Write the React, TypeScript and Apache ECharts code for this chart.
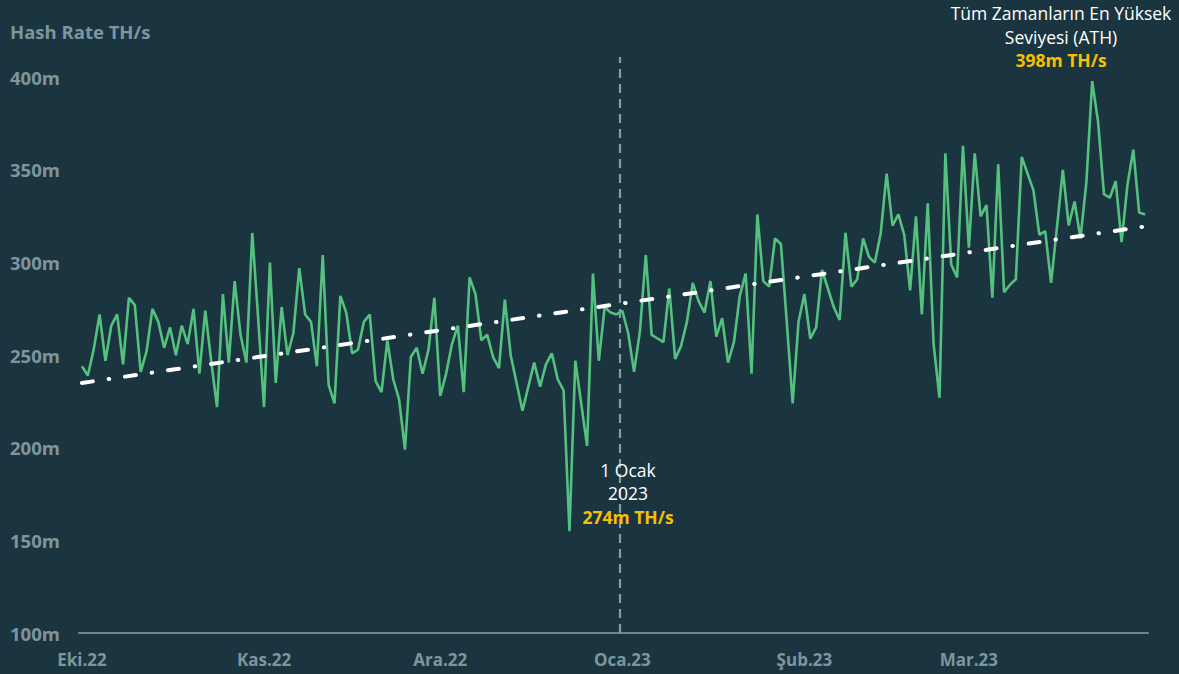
import React, { useEffect, useRef } from 'react';
import * as echarts from 'echarts';

// Daily categories: 1 Oct 2022 .. 31 Mar 2023
const START_DATE = Date.UTC(2022, 9, 1);
const DAY_COUNT = 182;
const categories: string[] = Array.from({ length: DAY_COUNT }, (_, i) =>
  new Date(START_DATE + i * 86400000).toISOString().slice(0, 10)
);

const monthStarts = ['2022-10-01', '2022-11-01', '2022-12-01', '2023-01-01', '2023-02-01', '2023-03-01'];
const monthLabels = ['Eki.22', 'Kas.22', 'Ara.22', 'Oca.23', 'Şub.23', 'Mar.23'];

// Hash rate (TH/s, in millions) per day
const hashRate = [
  244, 239, 253, 272, 247, 266, 272, 245, 281, 277,
  241, 252, 275, 268, 254, 265, 250, 266, 256, 275,
  240, 274, 247, 222, 283, 246, 290, 261, 246, 316,
  270, 222, 300, 235, 276, 250, 262, 297, 272, 268,
  244, 304, 234, 224, 282, 273, 251, 253, 268, 272,
  236, 230, 258, 237, 226, 199, 249, 254, 240, 253,
  281, 228, 240, 256, 266, 230, 292, 283, 258, 261,
  249, 243, 280, 250, 235, 220, 233, 246, 233, 245,
  251, 237, 231, 155, 247, 224, 201, 294, 247, 276,
  273, 272, 274, 262, 241, 263, 304, 261, 259, 257,
  286, 248, 255, 268, 289, 279, 273, 290, 260, 270,
  246, 257, 282, 294, 240, 326, 290, 287, 313, 310,
  268, 224, 268, 283, 259, 265, 296, 286, 276, 269,
  316, 287, 291, 313, 303, 300, 316, 348, 320, 326,
  315, 285, 325, 272, 332, 256, 227, 359, 299, 292,
  363, 308, 359, 325, 331, 281, 353, 284, 288, 291,
  357, 348, 339, 315, 317, 289, 319, 350, 320, 333,
  313, 343, 398, 376, 337, 335, 344, 311, 342, 361,
  327, 326,
];

// Linear trend end values
const trendValues = [235, 319.5];

const yMin = 100;
const yMax = 411;
const yInterval = 50;

const BG = '#1b3540';
const GRAY = '#7d969e';
const GREEN = '#55c17e';
const YELLOW = '#f8c000';
const FONT = '"Open Sans", "Noto Sans", sans-serif';

function annotation(x: number, y: number, lines: string[], value: string) {
  const step = 23.5;
  const size = 17.5;
  const els: any[] = lines.map((t, i) => ({
    type: 'text',
    x,
    y: y + i * step,
    z: 10,
    style: { text: t, fill: '#ffffff', fontSize: size, fontFamily: FONT, align: 'center', verticalAlign: 'middle' },
  }));
  els.push({
    type: 'text',
    x,
    y: y + lines.length * step,
    z: 10,
    style: { text: value, fill: YELLOW, fontSize: size, fontWeight: 'bold', fontFamily: FONT, align: 'center', verticalAlign: 'middle' },
  });
  return els;
}

export default function App() {
  const ref = useRef<HTMLDivElement>(null);

  useEffect(() => {
    document.body.style.margin = '0';
    document.body.style.background = BG;
    if (!ref.current) return;
    const chart = echarts.init(ref.current, undefined, { renderer: 'svg' });

    const isMonthStart = (_i: number, v: string) => monthStarts.indexOf(v) >= 0;
    const jan1Index = categories.indexOf('2023-01-01');
    const jan1Value = hashRate[jan1Index];
    const athValue = Math.max(...hashRate);

    chart.setOption({
      animation: false,
      backgroundColor: BG,
      textStyle: { fontFamily: FONT },
      title: {
        text: 'Hash Rate TH/s',
        left: 10,
        top: 22,
        padding: 0,
        textStyle: { color: GRAY, fontSize: 18.5, fontWeight: 'bold', fontFamily: FONT },
      },
      grid: { left: 79, right: 31, top: 57, bottom: 41 },
      xAxis: [
        {
          type: 'category',
          data: categories,
          boundaryGap: true,
          axisLine: { lineStyle: { color: '#6c8790', width: 2 } },
          axisTick: {
            interval: isMonthStart,
            alignWithLabel: false,
            length: 6,
            lineStyle: { color: '#6c8790', width: 1.5 },
          },
          axisLabel: {
            interval: isMonthStart,
            formatter: (v: string) => {
              const k = monthStarts.indexOf(v);
              return k >= 0 ? monthLabels[k] : '';
            },
            color: GRAY,
            fontSize: 17,
            fontWeight: 'bold',
            fontFamily: FONT,
            margin: 18,
          },
          splitLine: { show: false },
        },
        {
          type: 'value',
          min: 0,
          max: DAY_COUNT,
          show: false,
        },
      ],
      yAxis: {
        type: 'value',
        min: yMin,
        max: yMax,
        interval: yInterval,
        axisLine: { show: false },
        axisTick: { show: false },
        splitLine: { show: false },
        axisLabel: {
          showMaxLabel: false,
          formatter: (v: number) => `${v}m`,
          color: GRAY,
          fontSize: 18.5,
          fontWeight: 'bold',
          fontFamily: FONT,
          align: 'left',
          margin: 69,
        },
      },
      series: [
        {
          type: 'line',
          data: hashRate,
          showSymbol: false,
          symbol: 'none',
          lineStyle: { color: GREEN, width: 2.6 },
          emphasis: { disabled: true },
          z: 3,
          markLine: {
            silent: true,
            symbol: ['none', 'none'],
            label: { show: false },
            lineStyle: { color: '#ffffff', width: 4, type: [11, 16, 0.5, 16], cap: 'round' },
            emphasis: { disabled: true },
            data: [
              [
                { coord: [categories[0], trendValues[0]] },
                { coord: [categories[DAY_COUNT - 1], trendValues[1]] },
              ],
            ],
            z: 5,
          },
        },
        {
          type: 'line',
          xAxisIndex: 1,
          data: [],
          markLine: {
            silent: true,
            symbol: ['none', 'none'],
            label: { show: false },
            lineStyle: { color: '#869ca3', width: 2.2, type: [9, 6] },
            emphasis: { disabled: true },
            data: [{ xAxis: jan1Index }],
          },
          z: 1,
        },
      ],
      graphic: [
        ...annotation(628, 469.5, ['1 Ocak', '2023'], `${jan1Value}m TH/s`),
        ...annotation(1061, 13, ['Tüm Zamanların En Yüksek', 'Seviyesi (ATH)'], `${athValue}m TH/s`),
      ],
    });

    return () => chart.dispose();
  }, []);

  return <div ref={ref} style={{ position: 'absolute', left: 0, top: 0, width: 1179, height: 674 }} />;
}
